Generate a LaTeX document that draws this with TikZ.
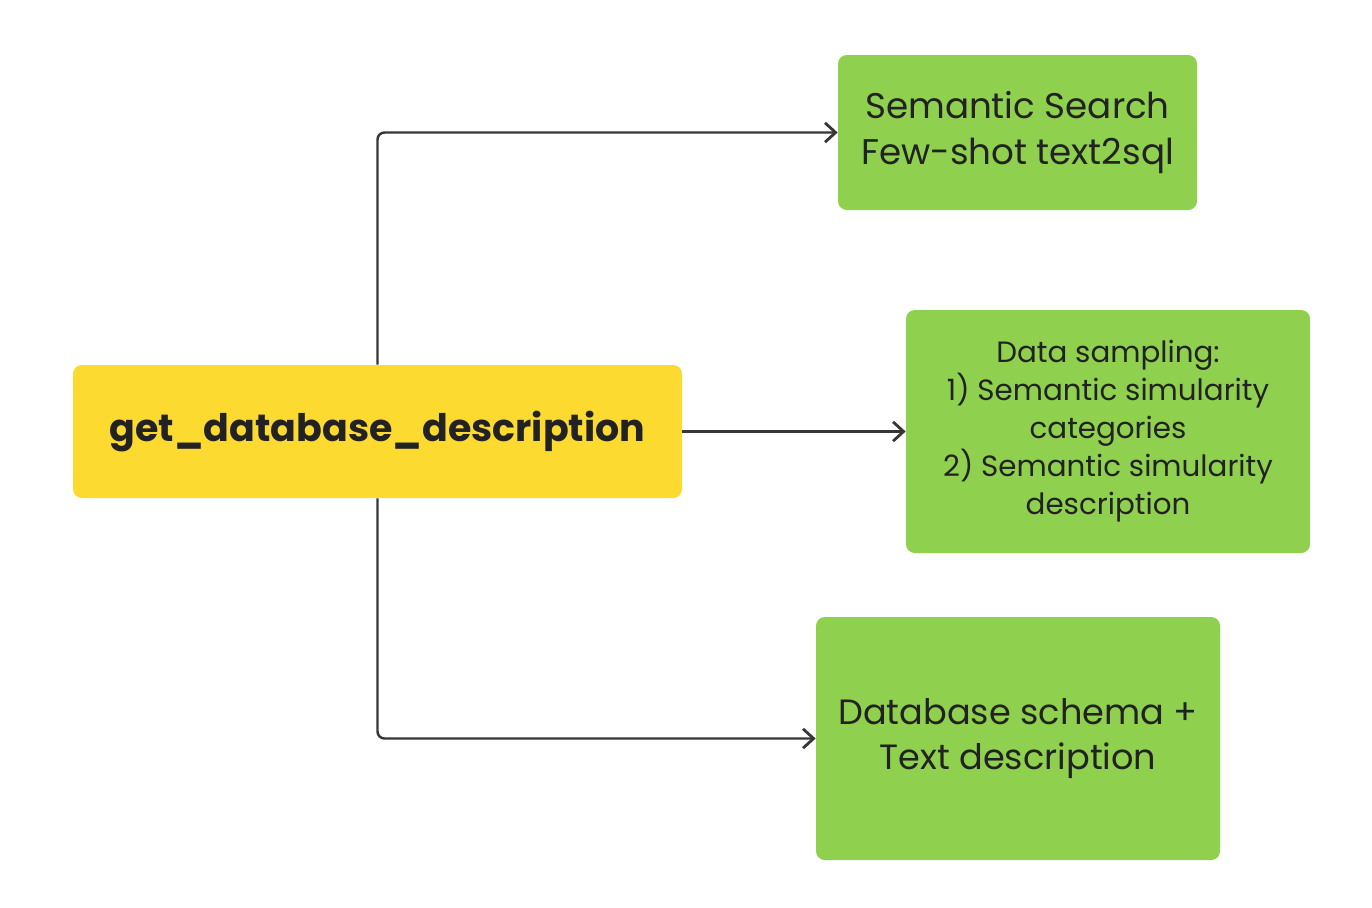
\documentclass[tikz,border=0pt]{standalone}
\usepackage{fontspec}
\setmainfont{Poppins}
\usetikzlibrary{arrows.meta}
\definecolor{boxgreen}{HTML}{8FD14F}
\definecolor{boxyellow}{HTML}{FDDA2F}
\definecolor{linegrey}{HTML}{363636}
\definecolor{txt}{HTML}{222222}
\tikzset{
  greenbox/.style={draw=none, fill=boxgreen, rounded corners=5pt, align=center, text=txt, inner sep=0pt},
  yellowbox/.style={draw=none, fill=boxyellow, rounded corners=5pt, align=center, text=txt, inner sep=0pt},
  conn/.style={draw=linegrey, line width=1.4pt, rounded corners=4pt, -{Straight Barb[length=6pt,width=11pt,line width=1.6pt]}}
}
\begin{document}
\begin{tikzpicture}[x=0.02cm,y=-0.02cm]
\useasboundingbox (0,0) rectangle (1372,907);
\node[yellowbox, minimum width=609*0.02cm, minimum height=133*0.02cm, font=\fontsize{21.6}{26}\selectfont\bfseries] (src) at (377.5,431.5) {\raisebox{-3pt}{get\_database\_description}};
\node[greenbox, minimum width=359*0.02cm, minimum height=155*0.02cm, font=\fontsize{20.3}{26.5}\selectfont] (g1) at (1017.5,132.5) {Semantic Search\\Few-shot text2sql};
\node[greenbox, minimum width=404*0.02cm, minimum height=243*0.02cm, font=\fontsize{16.7}{21.6}\selectfont] (g2) at (1108,431.5) {Data sampling:\\1) Semantic simularity\\categories\\2) Semantic simularity\\description};
\node[greenbox, minimum width=404*0.02cm, minimum height=243*0.02cm, font=\fontsize{20}{25.8}\selectfont] (g3) at (1018,738.5) {Database schema +\\Text description};
\draw[conn] (src.north) |- (g1.west);
\draw[conn] (src.east) -- (g2.west |- src.east);
\draw[conn] (src.south) |- (g3.west);
\end{tikzpicture}
\end{document}
